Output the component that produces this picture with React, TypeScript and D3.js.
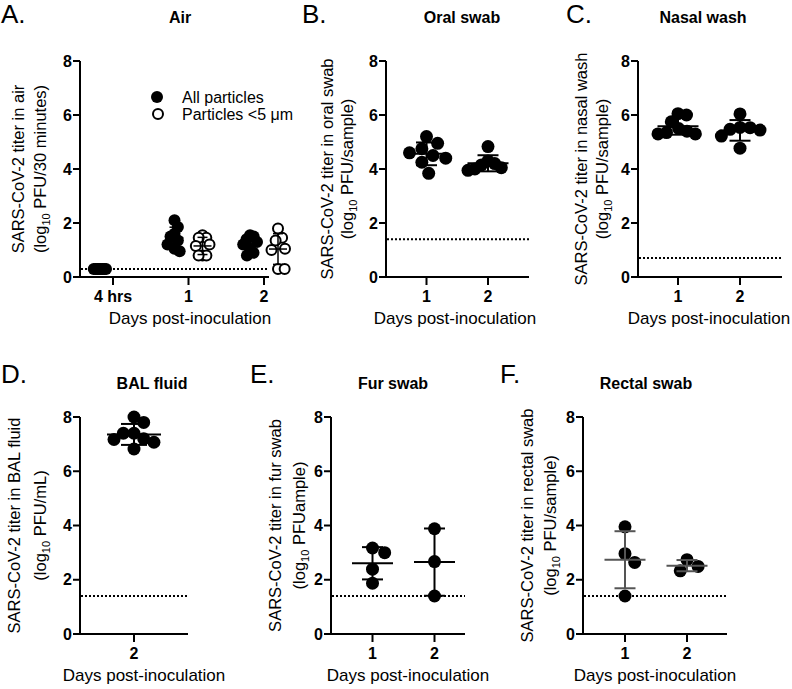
import React, { useEffect } from "react";
import * as d3 from "d3";

// ---------- DATA ----------
const airCategories = ["4 hrs", "1", "2"];
const airAll4h = [0.3, 0.3, 0.3, 0.3, 0.3, 0.3, 0.3, 0.3];
const airAllDay1 = [2.1, 1.85, 1.6, 1.5, 1.35, 1.2, 1.05, 0.95];
const airAllDay2 = [1.55, 1.5, 1.4, 1.3, 1.2, 1.05, 0.9, 0.8];
const airSmallDay1 = [1.55, 1.45, 1.45, 1.2, 1.15, 0.8, 0.8, 0.8];
const airSmallDay2 = [1.8, 1.45, 1.35, 1.05, 1.0, 0.3, 0.3];

const dayCategories = ["1", "2"];
const balCategories = ["2"];
const oralDay1 = [5.2, 4.95, 4.75, 4.6, 4.5, 4.4, 4.25, 3.84];
const oralDay2 = [4.83, 4.3, 4.2, 4.15, 4.05, 4.0, 3.95];
const nasalDay1 = [6.05, 6.0, 5.75, 5.5, 5.4, 5.35, 5.3, 5.3];
const nasalDay2 = [6.04, 5.54, 5.44, 5.47, 5.53, 5.22, 4.77];
const balDay2 = [8.0, 7.8, 7.4, 7.4, 7.17, 7.2, 7.07, 6.82];
const furDay1 = [3.0, 3.17, 2.39, 1.87];
const furDay2 = [3.88, 2.67, 1.4];
const rectalDay1 = [3.95, 2.96, 2.64, 1.4];
const rectalDay2 = [2.74, 2.33, 2.49];

const limits = { air: 0.3, oral: 1.4, nasal: 0.7, bal: 1.4, fur: 1.4, rectal: 1.4 };
const yTickValues = [0, 2, 4, 6, 8];
const legendLabels = ["All particles", "Particles <5 \u03bcm"];

const FONT = "'Liberation Sans', Arial, Helvetica, sans-serif";

function beeswarm(values: number[], y: (v: number) => number, r: number, maxHalf: number) {
  const d = 2 * r;
  const order = values.map((_, i) => i).sort((a, b) => values[b] - values[a]);
  const placed: { x: number; y: number }[] = [];
  const out: number[] = new Array(values.length).fill(0);
  for (const i of order) {
    const py = y(values[i]);
    const cands = [0];
    for (const p of placed) {
      const dy = Math.abs(p.y - py);
      if (dy < d) {
        const dx = Math.sqrt(d * d - dy * dy);
        cands.push(p.x + dx + 0.01, p.x - dx - 0.01);
      }
    }
    cands.sort((a, b) => Math.abs(a) - Math.abs(b) || b - a);
    let chosen = 0;
    for (const c of cands) {
      if (placed.every((p) => (p.x - c) ** 2 + (p.y - py) ** 2 >= d * d - 0.05)) {
        chosen = c;
        break;
      }
    }
    placed.push({ x: chosen, y: py });
    out[i] = chosen;
  }
  const m = d3.max(out, (o) => Math.abs(o)) || 0;
  const k = m > maxHalf ? maxHalf / m : 1;
  return out.map((o) => o * k);
}

type Group = { cat: number; values: number[]; open?: boolean; shift?: number };

type PanelProps = {
  letter: string;
  letterX: number;
  letterY: number;
  title: string;
  titleX: number;
  titleY: number;
  x0: number;
  x1: number;
  yTop: number;
  yBot: number;
  firstTick: number;
  lastTick: number;
  categories: string[];
  groups: Group[];
  lod: number;
  label1: string;
  label2unit: string;
  lab1X: number;
  lab2X: number;
  xTitleX: number;
  meanHalf: number;
  capHalf: number;
  r: number;
  maxHalf: number;
  barColor: string;
  barWidth: number;
  legend?: boolean;
};

function Panel(p: PanelProps) {
  const y = d3.scaleLinear().domain([0, 8]).range([p.yBot, p.yTop]);
  const x = d3
    .scaleLinear()
    .domain([0, Math.max(1, p.categories.length - 1)])
    .range([p.firstTick, p.lastTick]);
  const cx = (i: number) => (p.categories.length === 1 ? p.firstTick : x(i));
  const cy = (p.yTop + p.yBot) / 2;
  return (
    <g>
      <text x={p.letterX} y={p.letterY} fontSize={26} fontFamily={FONT}>
        {p.letter}
      </text>
      <text x={p.titleX} y={p.titleY} fontSize={16} fontWeight="bold" textAnchor="middle" fontFamily={FONT}>
        {p.title}
      </text>
      {/* y label */}
      <text transform={`translate(${p.lab1X},${cy}) rotate(-90)`} textAnchor="middle" fontSize={16.5} fontFamily={FONT}>
        {p.label1}
      </text>
      <text transform={`translate(${p.lab2X},${cy}) rotate(-90)`} textAnchor="middle" fontSize={16.5} fontFamily={FONT}>
        <tspan>(log</tspan>
        <tspan fontSize={11} dy={4}>10</tspan>
        <tspan dy={-4}>{" " + p.label2unit + ")"}</tspan>
      </text>
      {/* limit of detection */}
      <line x1={p.x0 + 1} x2={p.x1} y1={y(p.lod)} y2={y(p.lod)} stroke="#000" strokeWidth={2} strokeDasharray="2,2" />
      {/* axes */}
      <line x1={p.x0} x2={p.x0} y1={p.yBot + 1} y2={p.yTop} stroke="#000" strokeWidth={2} />
      <line x1={p.x0 - 1} x2={p.x1} y1={p.yBot} y2={p.yBot} stroke="#000" strokeWidth={2} />
      {yTickValues.map((t) => (
        <g key={t}>
          <line x1={p.x0 - 7} x2={p.x0} y1={y(t)} y2={y(t)} stroke="#000" strokeWidth={2} />
          <text x={p.x0 - 8} y={y(t) + 5.5} textAnchor="end" fontSize={16} fontWeight="bold" fontFamily={FONT}>
            {t}
          </text>
        </g>
      ))}
      {p.categories.map((c, i) => (
        <g key={c}>
          <line x1={cx(i)} x2={cx(i)} y1={p.yBot} y2={p.yBot + 8} stroke="#000" strokeWidth={2} />
          <text x={cx(i)} y={p.yBot + 25} textAnchor="middle" fontSize={16} fontWeight="bold" fontFamily={FONT}>
            {c}
          </text>
        </g>
      ))}
      <text x={p.xTitleX} y={p.yBot + 47} textAnchor="middle" fontSize={17} fontFamily={FONT}>
        Days post-inoculation
      </text>
      {/* points */}
      {p.groups.map((g, gi) => {
        const gx = cx(g.cat) + (g.shift || 0);
        const offs = beeswarm(g.values, y, p.r, p.maxHalf);
        return (
          <g key={"pts" + gi}>
            {g.values.map((v, i) => (
              <circle
                key={i}
                cx={gx + offs[i]}
                cy={y(v)}
                r={g.open ? p.r - 1 : p.r}
                fill={g.open ? "#fff" : "#000"}
                stroke="#000"
                strokeWidth={g.open ? 2 : 0}
              />
            ))}
          </g>
        );
      })}
      {/* mean +/- SD */}
      {p.groups.map((g, gi) => {
        const gx = cx(g.cat) + (g.shift || 0);
        const m = d3.mean(g.values) as number;
        const sd = g.values.length > 1 ? (d3.deviation(g.values) as number) : 0;
        return (
          <g key={"bar" + gi} stroke={p.barColor} strokeWidth={p.barWidth}>
            <line x1={gx - p.meanHalf} x2={gx + p.meanHalf} y1={y(m)} y2={y(m)} />
            {sd > 0 && (
              <>
                <line x1={gx} x2={gx} y1={y(m + sd)} y2={y(m - sd)} />
                <line x1={gx - p.capHalf} x2={gx + p.capHalf} y1={y(m + sd)} y2={y(m + sd)} />
                <line x1={gx - p.capHalf} x2={gx + p.capHalf} y1={y(m - sd)} y2={y(m - sd)} />
              </>
            )}
          </g>
        );
      })}
      {p.legend && (
        <g fontFamily={FONT} fontSize={16}>
          <circle cx={157} cy={97} r={6} fill="#000" />
          <text x={182} y={102.5}>{legendLabels[0]}</text>
          <circle cx={158} cy={114} r={5} fill="#fff" stroke="#000" strokeWidth={2} />
          <text x={182} y={119.5}>{legendLabels[1]}</text>
        </g>
      )}
    </g>
  );
}

export default function App() {
  useEffect(() => {
    document.body.style.margin = "0";
  }, []);
  const top = { yTop: 61, yBot: 277, titleY: 23, letterY: 23 };
  const bot = { yTop: 417, yBot: 634, titleY: 389, letterY: 383 };
  const common = { meanHalf: 20.5, capHalf: 10.5, r: 6.5, maxHalf: 20, barColor: "#000", barWidth: 2 };
  return (
    <svg width={792} height={689} style={{ display: "block", background: "#fff" }}>
      <Panel
        {...top}
        letter="A."
        letterX={1}
        title="Air"
        titleX={180}
        x0={80}
        x1={269}
        firstTick={113}
        lastTick={264}
        categories={airCategories}
        groups={[
          { cat: 0, values: airAll4h, shift: -14 },
          { cat: 1, values: airAllDay1, shift: -14 },
          { cat: 1, values: airSmallDay1, open: true, shift: 14 },
          { cat: 2, values: airAllDay2, shift: -14 },
          { cat: 2, values: airSmallDay2, open: true, shift: 14 },
        ]}
        lod={limits.air}
        label1="SARS-CoV-2 titer in air"
        label2unit="PFU/30 minutes"
        lab1X={24}
        lab2X={46}
        xTitleX={190}
        meanHalf={9}
        capHalf={5}
        r={6}
        maxHalf={7}
        barColor="#000"
        barWidth={1.5}
        legend
      />
      <Panel
        {...top}
        {...common}
        letter="B."
        letterX={302}
        title="Oral swab"
        titleX={462}
        x0={386}
        x1={529}
        firstTick={426.5}
        lastTick={488}
        categories={dayCategories}
        groups={[
          { cat: 0, values: oralDay1 },
          { cat: 1, values: oralDay2 },
        ]}
        lod={limits.oral}
        label1="SARS-CoV-2 titer in oral swab"
        label2unit="PFU/sample"
        lab1X={333}
        lab2X={353}
        xTitleX={455}
      />
      <Panel
        {...top}
        {...common}
        letter="C."
        letterX={566}
        title="Nasal wash"
        titleX={703}
        x0={638}
        x1={782}
        firstTick={678}
        lastTick={740}
        categories={dayCategories}
        groups={[
          { cat: 0, values: nasalDay1 },
          { cat: 1, values: nasalDay2 },
        ]}
        lod={limits.nasal}
        label1="SARS-CoV-2 titer in nasal wash"
        label2unit="PFU/sample"
        lab1X={587}
        lab2X={608}
        xTitleX={709}
      />
      <Panel
        {...bot}
        {...common}
        letter="D."
        letterX={1}
        title="BAL fluid"
        titleX={152}
        x0={80}
        x1={188}
        firstTick={134}
        lastTick={134}
        categories={balCategories}
        groups={[{ cat: 0, values: balDay2 }]}
        lod={limits.bal}
        label1="SARS-CoV-2 titer in BAL fluid"
        label2unit="PFU/mL"
        lab1X={19.5}
        lab2X={45.5}
        xTitleX={144}
        meanHalf={27}
        capHalf={13}
      />
      <Panel
        {...bot}
        {...common}
        letter="E."
        letterX={250}
        title="Fur swab"
        titleX={393}
        x0={331}
        x1={465}
        firstTick={372.5}
        lastTick={434.5}
        categories={dayCategories}
        groups={[
          { cat: 0, values: furDay1 },
          { cat: 1, values: furDay2 },
        ]}
        lod={limits.fur}
        label1="SARS-CoV-2 titer in fur swab"
        label2unit="PFUample"
        lab1X={281}
        lab2X={305}
        xTitleX={408}
      />
      <Panel
        {...bot}
        {...common}
        letter="F."
        letterX={500}
        title="Rectal swab"
        titleX={646}
        x0={583}
        x1={727}
        firstTick={625}
        lastTick={687}
        categories={dayCategories}
        groups={[
          { cat: 0, values: rectalDay1 },
          { cat: 1, values: rectalDay2 },
        ]}
        lod={limits.rectal}
        label1="SARS-CoV-2 titer in rectal swab"
        label2unit="PFU/sample"
        lab1X={533}
        lab2X={556}
        xTitleX={655}
        barColor="#555"
      />
    </svg>
  );
}
